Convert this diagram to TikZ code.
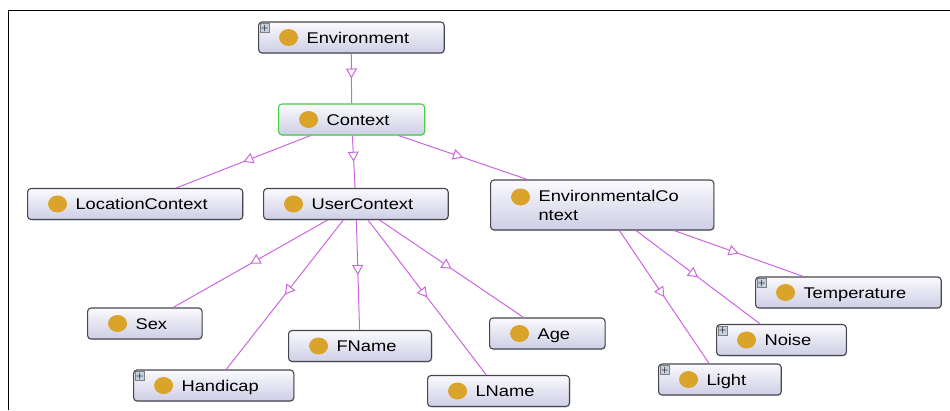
\documentclass[tikz,border=0pt]{standalone}
\usepackage{fontspec}
\usepackage{tikz}
\usetikzlibrary{arrows.meta,decorations.markings,shadows}
\newfontfamily\ontofont[FakeStretch=1.18]{Liberation Sans}
\definecolor{boxline}{RGB}{70,70,78}
\definecolor{boxtop}{RGB}{250,250,253}
\definecolor{boxbot}{RGB}{206,206,230}
\definecolor{dotc}{RGB}{218,164,42}
\definecolor{ctxgreen}{RGB}{70,205,70}
\definecolor{edgec}{RGB}{204,102,224}
\definecolor{iconc}{RGB}{196,208,224}

\begin{document}
\begin{tikzpicture}[x=1pt, y=-1pt,
  cls/.style={draw=boxline, line width=1.1pt, rounded corners=3.5pt,
    top color=boxtop, bottom color=boxbot,
    drop shadow={shadow xshift=1pt, shadow yshift=-1pt, opacity=0.2},
    font=\ontofont\fontsize{15.5}{18.5}\selectfont,
    inner xsep=35pt, minimum height=31pt, text height=11pt, text depth=0pt,
    anchor=west, execute at begin node={\hspace*{13pt}},
    path picture={\fill[dotc] ([xshift=30pt, yshift=#1]path picture bounding box.west) ellipse (9.5pt and 8.5pt);}},
  cls/.default=0pt,
  plusbox/.style={draw=gray, fill=iconc, line width=0.5pt, minimum size=9pt,
    inner sep=0pt, anchor=north west, font=\bfseries\fontsize{8}{8}\selectfont},
  isa/.style={draw=edgec, line width=1pt,
    postaction={decorate, decoration={markings,
      mark=at position 0.5 with {\arrow{Triangle[open, length=10pt, width=11pt, fill=white]}}}}}]
\useasboundingbox (0,0) rectangle (950,410);
\draw[line width=1.5pt] (8.5,410) -- (8.5,10.5) -- (950,10.5);

\node[cls](env) at (258,37.5) {Environment};
\node[cls, draw=ctxgreen](ctx) at (278,119.5) {Context};
\node[cls](loc) at (27,204) {LocationContext};
\node[cls](user) at (263,204) {UserContext};
\node[cls=8pt, align=left, minimum height=50pt, text height=31.5pt, text depth=1.5pt](envctx) at (490,205) {EnvironmentalCo\\ntext};
\node[cls](sex) at (87,323.5) {Sex};
\node[cls](hcap) at (133,385.5) {Handicap};
\node[cls](fname) at (288,346) {FName};
\node[cls](lname) at (427,391) {LName};
\node[cls](age) at (489,333.5) {Age};
\node[cls](temp) at (755,292.5) {Temperature};
\node[cls](noise) at (716,340) {Noise};
\node[cls](light) at (658,379.5) {Light};

\node[plusbox](envp) at ([shift={(2pt,-2pt)}]env.north west) {+};
\node[plusbox](hcapp) at ([shift={(2pt,-2pt)}]hcap.north west) {+};
\node[plusbox](tempp) at ([shift={(2pt,-2pt)}]temp.north west) {+};
\node[plusbox](noisep) at ([shift={(2pt,-2pt)}]noise.north west) {+};
\node[plusbox](lightp) at ([shift={(2pt,-2pt)}]light.north west) {+};

\path (env) edge[isa] (ctx);

\path (ctx) edge[isa] (loc);
\path (ctx) edge[isa] (user);
\path (ctx) edge[isa] (envctx);

\path (user) edge[isa] (sex);
\path (user) edge[isa] (hcap);
\path (user) edge[isa] (fname);
\path (user) edge[isa] (lname);
\path (user) edge[isa] (age);

\path (envctx) edge[isa] (light);
\path (envctx) edge[isa] (noise);
\path (envctx) edge[isa] (temp);
\end{tikzpicture}
\end{document}
